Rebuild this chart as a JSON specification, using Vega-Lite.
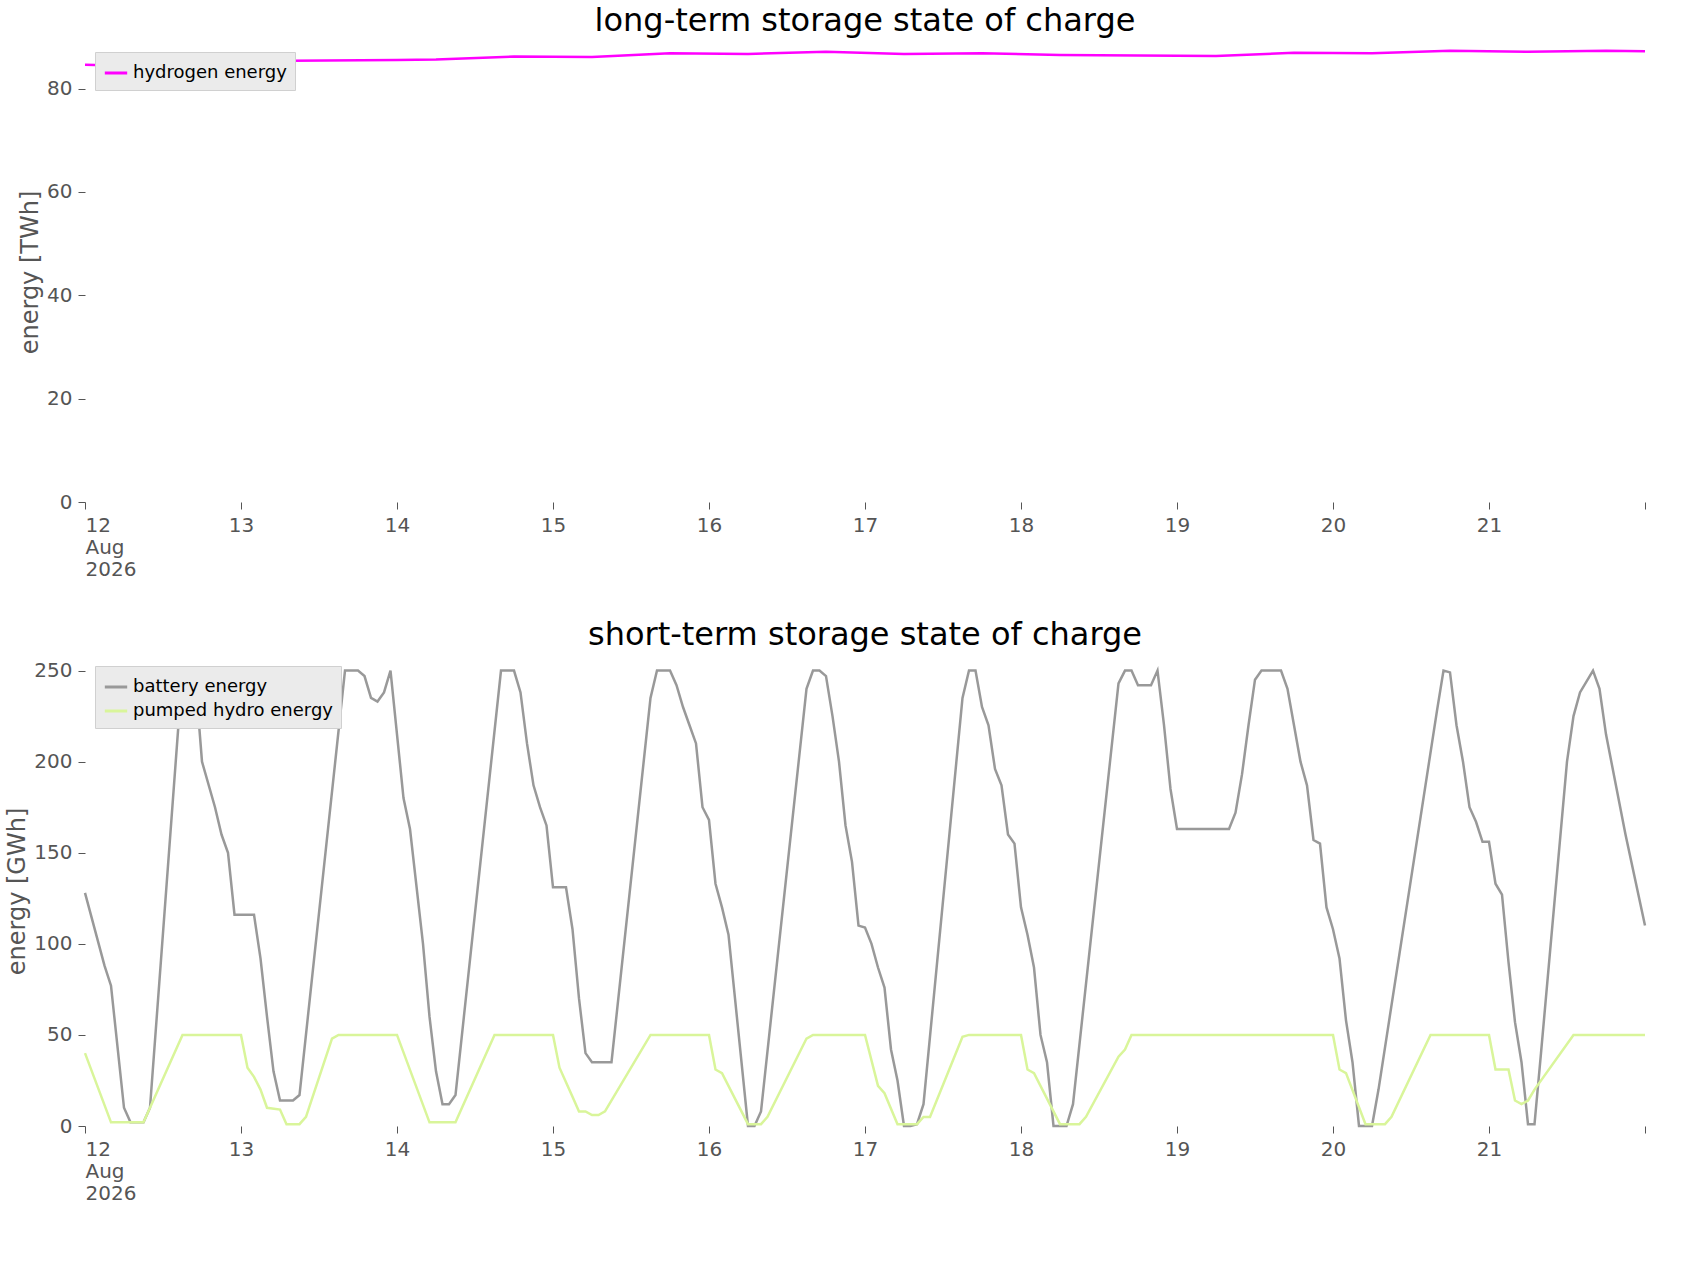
{"$schema":"https://vega.github.io/schema/vega-lite/v6.json","background":"white","config":{"view":{"stroke":null},"font":"DejaVu Sans","axis":{"grid":false,"domain":false,"tickColor":"#555","tickSize":7,"labelFontSize":20,"labelColor":"#555","titleFontSize":24,"titleColor":"#555","titleFontWeight":"normal","labelPadding":6},"title":{"fontSize":32,"fontWeight":"normal","color":"#000"},"legend":{"orient":"top-left","fillColor":"#ebebeb","strokeColor":"#d0d0d0","padding":8,"labelFontSize":18,"labelColor":"#000","labelLimit":400,"symbolType":"stroke","symbolStrokeWidth":3,"symbolSize":500,"title":null,"offset":10}},
"datasets":{
"h2":[{"t":"2026-08-12T00:00Z","v":84.6},{"t":"2026-08-12T06:00Z","v":84.4},{"t":"2026-08-13T00:00Z","v":85.3},{"t":"2026-08-14T00:00Z","v":85.5},{"t":"2026-08-14T06:00Z","v":85.6},{"t":"2026-08-14T18:00Z","v":86.2},{"t":"2026-08-15T06:00Z","v":86.1},{"t":"2026-08-15T18:00Z","v":86.8},{"t":"2026-08-16T06:00Z","v":86.7},{"t":"2026-08-16T18:00Z","v":87.1},{"t":"2026-08-17T06:00Z","v":86.7},{"t":"2026-08-17T18:00Z","v":86.8},{"t":"2026-08-18T06:00Z","v":86.5},{"t":"2026-08-19T06:00Z","v":86.3},{"t":"2026-08-19T18:00Z","v":86.9},{"t":"2026-08-20T06:00Z","v":86.8},{"t":"2026-08-20T18:00Z","v":87.3},{"t":"2026-08-21T06:00Z","v":87.1},{"t":"2026-08-21T18:00Z","v":87.3},{"t":"2026-08-22T00:00Z","v":87.2}],
"bat":[{"t":"2026-08-12T00:00Z","v":128},{"t":"2026-08-12T03:00Z","v":88},{"t":"2026-08-12T04:00Z","v":77},{"t":"2026-08-12T06:00Z","v":10},{"t":"2026-08-12T07:00Z","v":2},{"t":"2026-08-12T09:00Z","v":2},{"t":"2026-08-12T10:00Z","v":10},{"t":"2026-08-12T15:00Z","v":250},{"t":"2026-08-12T17:00Z","v":245},{"t":"2026-08-12T18:00Z","v":200},{"t":"2026-08-12T20:00Z","v":175},{"t":"2026-08-12T21:00Z","v":160},{"t":"2026-08-12T22:00Z","v":150},{"t":"2026-08-12T23:00Z","v":116},{"t":"2026-08-13T02:00Z","v":116},{"t":"2026-08-13T03:00Z","v":92},{"t":"2026-08-13T04:00Z","v":60},{"t":"2026-08-13T05:00Z","v":30},{"t":"2026-08-13T06:00Z","v":14},{"t":"2026-08-13T08:00Z","v":14},{"t":"2026-08-13T09:00Z","v":17},{"t":"2026-08-13T16:00Z","v":250},{"t":"2026-08-13T18:00Z","v":250},{"t":"2026-08-13T19:00Z","v":247},{"t":"2026-08-13T20:00Z","v":235},{"t":"2026-08-13T21:00Z","v":233},{"t":"2026-08-13T22:00Z","v":238},{"t":"2026-08-13T23:00Z","v":250},{"t":"2026-08-14T01:00Z","v":180},{"t":"2026-08-14T02:00Z","v":163},{"t":"2026-08-14T04:00Z","v":100},{"t":"2026-08-14T05:00Z","v":60},{"t":"2026-08-14T06:00Z","v":30},{"t":"2026-08-14T07:00Z","v":12},{"t":"2026-08-14T08:00Z","v":12},{"t":"2026-08-14T09:00Z","v":17},{"t":"2026-08-14T16:00Z","v":250},{"t":"2026-08-14T18:00Z","v":250},{"t":"2026-08-14T19:00Z","v":238},{"t":"2026-08-14T20:00Z","v":210},{"t":"2026-08-14T21:00Z","v":187},{"t":"2026-08-14T22:00Z","v":175},{"t":"2026-08-14T23:00Z","v":165},{"t":"2026-08-15T00:00Z","v":131},{"t":"2026-08-15T02:00Z","v":131},{"t":"2026-08-15T03:00Z","v":108},{"t":"2026-08-15T04:00Z","v":70},{"t":"2026-08-15T05:00Z","v":40},{"t":"2026-08-15T06:00Z","v":35},{"t":"2026-08-15T09:00Z","v":35},{"t":"2026-08-15T15:00Z","v":235},{"t":"2026-08-15T16:00Z","v":250},{"t":"2026-08-15T18:00Z","v":250},{"t":"2026-08-15T19:00Z","v":242},{"t":"2026-08-15T20:00Z","v":230},{"t":"2026-08-15T21:00Z","v":220},{"t":"2026-08-15T22:00Z","v":210},{"t":"2026-08-15T23:00Z","v":175},{"t":"2026-08-16T00:00Z","v":168},{"t":"2026-08-16T01:00Z","v":133},{"t":"2026-08-16T02:00Z","v":120},{"t":"2026-08-16T03:00Z","v":105},{"t":"2026-08-16T04:00Z","v":70},{"t":"2026-08-16T05:00Z","v":35},{"t":"2026-08-16T06:00Z","v":0},{"t":"2026-08-16T07:00Z","v":0},{"t":"2026-08-16T08:00Z","v":8},{"t":"2026-08-16T15:00Z","v":240},{"t":"2026-08-16T16:00Z","v":250},{"t":"2026-08-16T17:00Z","v":250},{"t":"2026-08-16T18:00Z","v":247},{"t":"2026-08-16T19:00Z","v":225},{"t":"2026-08-16T20:00Z","v":200},{"t":"2026-08-16T21:00Z","v":165},{"t":"2026-08-16T22:00Z","v":145},{"t":"2026-08-16T23:00Z","v":110},{"t":"2026-08-17T00:00Z","v":109},{"t":"2026-08-17T01:00Z","v":100},{"t":"2026-08-17T02:00Z","v":87},{"t":"2026-08-17T03:00Z","v":76},{"t":"2026-08-17T04:00Z","v":42},{"t":"2026-08-17T05:00Z","v":25},{"t":"2026-08-17T06:00Z","v":0},{"t":"2026-08-17T07:00Z","v":0},{"t":"2026-08-17T08:00Z","v":1},{"t":"2026-08-17T09:00Z","v":12},{"t":"2026-08-17T15:00Z","v":235},{"t":"2026-08-17T16:00Z","v":250},{"t":"2026-08-17T17:00Z","v":250},{"t":"2026-08-17T18:00Z","v":230},{"t":"2026-08-17T19:00Z","v":220},{"t":"2026-08-17T20:00Z","v":196},{"t":"2026-08-17T21:00Z","v":187},{"t":"2026-08-17T22:00Z","v":160},{"t":"2026-08-17T23:00Z","v":155},{"t":"2026-08-18T00:00Z","v":120},{"t":"2026-08-18T01:00Z","v":105},{"t":"2026-08-18T02:00Z","v":87},{"t":"2026-08-18T03:00Z","v":50},{"t":"2026-08-18T04:00Z","v":35},{"t":"2026-08-18T05:00Z","v":0},{"t":"2026-08-18T07:00Z","v":0},{"t":"2026-08-18T08:00Z","v":12},{"t":"2026-08-18T15:00Z","v":243},{"t":"2026-08-18T16:00Z","v":250},{"t":"2026-08-18T17:00Z","v":250},{"t":"2026-08-18T18:00Z","v":242},{"t":"2026-08-18T20:00Z","v":242},{"t":"2026-08-18T21:00Z","v":250},{"t":"2026-08-18T22:00Z","v":220},{"t":"2026-08-18T23:00Z","v":185},{"t":"2026-08-19T00:00Z","v":163},{"t":"2026-08-19T08:00Z","v":163},{"t":"2026-08-19T09:00Z","v":172},{"t":"2026-08-19T10:00Z","v":193},{"t":"2026-08-19T11:00Z","v":220},{"t":"2026-08-19T12:00Z","v":245},{"t":"2026-08-19T13:00Z","v":250},{"t":"2026-08-19T16:00Z","v":250},{"t":"2026-08-19T17:00Z","v":240},{"t":"2026-08-19T18:00Z","v":220},{"t":"2026-08-19T19:00Z","v":200},{"t":"2026-08-19T20:00Z","v":187},{"t":"2026-08-19T21:00Z","v":157},{"t":"2026-08-19T22:00Z","v":155},{"t":"2026-08-19T23:00Z","v":120},{"t":"2026-08-20T00:00Z","v":108},{"t":"2026-08-20T01:00Z","v":92},{"t":"2026-08-20T02:00Z","v":58},{"t":"2026-08-20T03:00Z","v":35},{"t":"2026-08-20T04:00Z","v":0},{"t":"2026-08-20T06:00Z","v":0},{"t":"2026-08-20T07:00Z","v":20},{"t":"2026-08-20T16:00Z","v":228},{"t":"2026-08-20T17:00Z","v":250},{"t":"2026-08-20T18:00Z","v":249},{"t":"2026-08-20T19:00Z","v":220},{"t":"2026-08-20T20:00Z","v":200},{"t":"2026-08-20T21:00Z","v":175},{"t":"2026-08-20T22:00Z","v":167},{"t":"2026-08-20T23:00Z","v":156},{"t":"2026-08-21T00:00Z","v":156},{"t":"2026-08-21T01:00Z","v":133},{"t":"2026-08-21T02:00Z","v":127},{"t":"2026-08-21T03:00Z","v":90},{"t":"2026-08-21T04:00Z","v":57},{"t":"2026-08-21T05:00Z","v":35},{"t":"2026-08-21T06:00Z","v":1},{"t":"2026-08-21T07:00Z","v":1},{"t":"2026-08-21T08:00Z","v":40},{"t":"2026-08-21T12:00Z","v":200},{"t":"2026-08-21T13:00Z","v":225},{"t":"2026-08-21T14:00Z","v":238},{"t":"2026-08-21T16:00Z","v":250},{"t":"2026-08-21T17:00Z","v":240},{"t":"2026-08-21T18:00Z","v":215},{"t":"2026-08-21T21:00Z","v":160},{"t":"2026-08-22T00:00Z","v":110}],
"ph":[{"t":"2026-08-12T00:00Z","v":40},{"t":"2026-08-12T04:00Z","v":2},{"t":"2026-08-12T09:00Z","v":2},{"t":"2026-08-12T15:00Z","v":50},{"t":"2026-08-13T00:00Z","v":50},{"t":"2026-08-13T01:00Z","v":32},{"t":"2026-08-13T02:00Z","v":27},{"t":"2026-08-13T03:00Z","v":20},{"t":"2026-08-13T04:00Z","v":10},{"t":"2026-08-13T06:00Z","v":9},{"t":"2026-08-13T07:00Z","v":1},{"t":"2026-08-13T09:00Z","v":1},{"t":"2026-08-13T10:00Z","v":5},{"t":"2026-08-13T14:00Z","v":48},{"t":"2026-08-13T15:00Z","v":50},{"t":"2026-08-14T00:00Z","v":50},{"t":"2026-08-14T05:00Z","v":2},{"t":"2026-08-14T09:00Z","v":2},{"t":"2026-08-14T15:00Z","v":50},{"t":"2026-08-15T00:00Z","v":50},{"t":"2026-08-15T01:00Z","v":32},{"t":"2026-08-15T02:00Z","v":24},{"t":"2026-08-15T03:00Z","v":16},{"t":"2026-08-15T04:00Z","v":8},{"t":"2026-08-15T05:00Z","v":8},{"t":"2026-08-15T06:00Z","v":6},{"t":"2026-08-15T07:00Z","v":6},{"t":"2026-08-15T08:00Z","v":8},{"t":"2026-08-15T15:00Z","v":50},{"t":"2026-08-16T00:00Z","v":50},{"t":"2026-08-16T01:00Z","v":31},{"t":"2026-08-16T02:00Z","v":29},{"t":"2026-08-16T06:00Z","v":1},{"t":"2026-08-16T08:00Z","v":1},{"t":"2026-08-16T09:00Z","v":5},{"t":"2026-08-16T15:00Z","v":48},{"t":"2026-08-16T16:00Z","v":50},{"t":"2026-08-17T00:00Z","v":50},{"t":"2026-08-17T02:00Z","v":22},{"t":"2026-08-17T03:00Z","v":18},{"t":"2026-08-17T05:00Z","v":1},{"t":"2026-08-17T08:00Z","v":1},{"t":"2026-08-17T09:00Z","v":5},{"t":"2026-08-17T10:00Z","v":5},{"t":"2026-08-17T15:00Z","v":49},{"t":"2026-08-17T16:00Z","v":50},{"t":"2026-08-18T00:00Z","v":50},{"t":"2026-08-18T01:00Z","v":31},{"t":"2026-08-18T02:00Z","v":29},{"t":"2026-08-18T06:00Z","v":1},{"t":"2026-08-18T09:00Z","v":1},{"t":"2026-08-18T10:00Z","v":5},{"t":"2026-08-18T15:00Z","v":38},{"t":"2026-08-18T16:00Z","v":42},{"t":"2026-08-18T17:00Z","v":50},{"t":"2026-08-20T00:00Z","v":50},{"t":"2026-08-20T01:00Z","v":31},{"t":"2026-08-20T02:00Z","v":29},{"t":"2026-08-20T05:00Z","v":1},{"t":"2026-08-20T08:00Z","v":1},{"t":"2026-08-20T09:00Z","v":5},{"t":"2026-08-20T15:00Z","v":50},{"t":"2026-08-21T00:00Z","v":50},{"t":"2026-08-21T01:00Z","v":31},{"t":"2026-08-21T03:00Z","v":31},{"t":"2026-08-21T04:00Z","v":14},{"t":"2026-08-21T05:00Z","v":12},{"t":"2026-08-21T06:00Z","v":14},{"t":"2026-08-21T07:00Z","v":20},{"t":"2026-08-21T13:00Z","v":50},{"t":"2026-08-22T00:00Z","v":50}]},
"vconcat":[
{"title":"long-term storage state of charge","width":1560,"height":460,
"data":{"name":"h2"},"transform":[{"calculate":"'hydrogen energy'","as":"s"}],
"mark":{"type":"line","strokeWidth":2.5},
"encoding":{"x":{"field":"t","type":"temporal","scale":{"type":"utc","domain":["2026-08-12T00:00Z","2026-08-22T00:00Z"]},"title":null,"axis":{"tickCount":{"interval":"day","step":1},"labelExpr":"utcdate(datum.value)==12 ? ['12','Aug','2026'] : utcdate(datum.value)==22 ? '' : ''+utcdate(datum.value)"}},
"y":{"field":"v","type":"quantitative","scale":{"domain":[0,89],"nice":false,"zero":true},"title":"energy [TWh]","axis":{"values":[0,20,40,60,80]}},
"color":{"field":"s","type":"nominal","scale":{"domain":["hydrogen energy"],"range":["#ff00ff"]}}}},
{"title":"short-term storage state of charge","width":1560,"height":470,
"layer":[{"data":{"name":"bat"},"transform":[{"calculate":"'battery energy'","as":"s"}],"mark":{"type":"line","strokeWidth":2.5},
"encoding":{"x":{"field":"t","type":"temporal","scale":{"type":"utc","domain":["2026-08-12T00:00Z","2026-08-22T00:00Z"]},"title":null,"axis":{"tickCount":{"interval":"day","step":1},"labelExpr":"utcdate(datum.value)==12 ? ['12','Aug','2026'] : utcdate(datum.value)==22 ? '' : ''+utcdate(datum.value)"}},
"y":{"field":"v","type":"quantitative","scale":{"domain":[0,258],"nice":false},"title":"energy [GWh]","axis":{"values":[0,50,100,150,200,250]}},
"color":{"field":"s","type":"nominal","scale":{"domain":["battery energy","pumped hydro energy"],"range":["#999999","#d9f59a"]}}}},
{"data":{"name":"ph"},"transform":[{"calculate":"'pumped hydro energy'","as":"s"}],"mark":{"type":"line","strokeWidth":2.5},
"encoding":{"x":{"field":"t","type":"temporal"},"y":{"field":"v","type":"quantitative"},"color":{"field":"s","type":"nominal"}}}]}],
"spacing":40,"resolve":{"scale":{"color":"independent","x":"independent","y":"independent"},"legend":{"color":"independent"}}}
